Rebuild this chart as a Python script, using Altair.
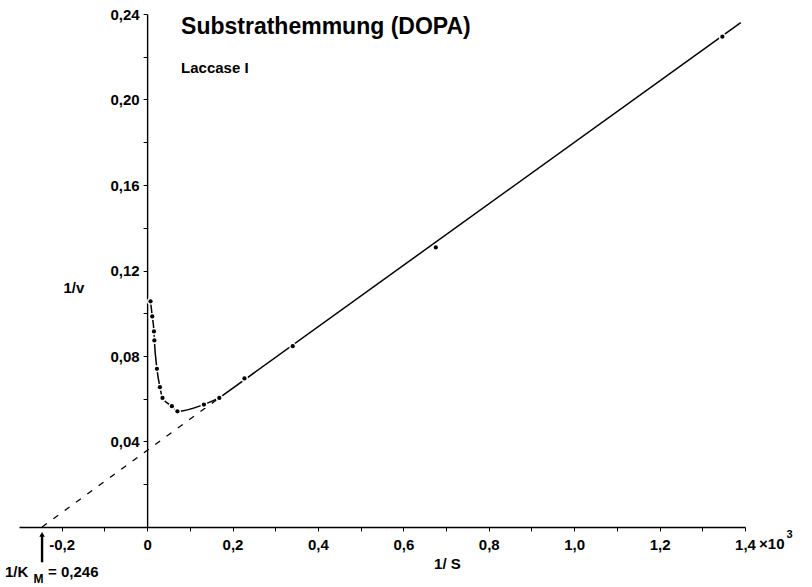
import altair as alt
import pandas as pd

FONT = "Liberation Sans"

# measured points (1/S in units of 10^3, 1/v)
pts_x = [0.008, 0.012, 0.016, 0.017, 0.023, 0.030, 0.036, 0.058, 0.071, 0.133, 0.169, 0.228, 0.341, 0.676, 1.347]
pts_y = [0.1056, 0.0985, 0.0915, 0.0873, 0.074, 0.0654, 0.0604, 0.0565, 0.0541, 0.0573, 0.0604, 0.0695, 0.0846, 0.1308, 0.2294]

# curve through the inhibition region (first 11 points)
n_curve = 11

# straight Lineweaver-Burk line (solid part) and its dashed extrapolation
fit_x = [0.169, 1.39]
fit_y = [0.0604, 0.236]
extra_x = [-0.246, 0.169]
extra_y = [0.0, 0.0604]

x_ticks = [-0.2, -0.1, 0.0, 0.1, 0.2, 0.3, 0.4, 0.5, 0.6, 0.7, 0.8, 0.9, 1.0, 1.1, 1.2, 1.3, 1.4]
y_ticks = [0.02, 0.04, 0.06, 0.08, 0.10, 0.12, 0.14, 0.16, 0.18, 0.20, 0.22, 0.24]

X_DOMAIN = [-0.3, 1.4]
Y_DOMAIN = [0.0, 0.24]
W, H = 726, 513

pts = pd.DataFrame({"x": pts_x, "y": pts_y})
curve = pts.iloc[:n_curve].copy()
fit = pd.DataFrame({"x": fit_x, "y": fit_y})
extra = pd.DataFrame({"x": extra_x, "y": extra_y})

xs = alt.Scale(domain=X_DOMAIN, nice=False, zero=False)
ys = alt.Scale(domain=Y_DOMAIN, nice=False, zero=False)

x_label_expr = ("datum.value == 0 ? '0' : (abs(round(datum.value*10)) % 2 == 0 ? "
                "replace(replace(format(datum.value, '.1f'), '.', ','), '\u2212', '-') : '')")
y_label_expr = ("round(datum.value*100) % 4 == 0 ? replace(format(datum.value, '.2f'), '.', ',') : ''")

x_axis = alt.Axis(values=x_ticks, labelExpr=x_label_expr, grid=False, title=None,
                  domainColor="black", domainWidth=1.4, tickColor="black", tickSize=4,
                  labelFont=FONT, labelFontWeight="bold", labelFontSize=15, labelColor="black",
                  labelPadding=6, labelFlush=False, labelOverlap=False)
y_offset = -W * (0 - X_DOMAIN[0]) / (X_DOMAIN[1] - X_DOMAIN[0])
y_axis = alt.Axis(values=y_ticks, labelExpr=y_label_expr, grid=False, title=None,
                  domainColor="black", domainWidth=1.4, tickColor="black", tickSize=4,
                  labelFont=FONT, labelFontWeight="bold", labelFontSize=15, labelColor="black",
                  labelPadding=4, offset=y_offset, labelFlush=False, labelOverlap=False)

extra_layer = alt.Chart(extra).mark_line(color="black", strokeWidth=1.3, strokeDash=[6, 8]).encode(
    x=alt.X("x:Q", scale=xs, axis=x_axis), y=alt.Y("y:Q", scale=ys, axis=y_axis))
fit_layer = alt.Chart(fit).mark_line(color="black", strokeWidth=1.5).encode(
    x=alt.X("x:Q", scale=xs), y=alt.Y("y:Q", scale=ys))
curve_layer = alt.Chart(curve).mark_line(color="black", strokeWidth=1.5, interpolate="monotone").encode(
    x=alt.X("x:Q", scale=xs), y=alt.Y("y:Q", scale=ys))
gap_layer = alt.Chart(pts).mark_point(filled=True, color="white", size=50, opacity=1).encode(
    x=alt.X("x:Q", scale=xs), y=alt.Y("y:Q", scale=ys))
dot_layer = alt.Chart(pts).mark_point(filled=True, color="black", size=18, opacity=1).encode(
    x=alt.X("x:Q", scale=xs), y=alt.Y("y:Q", scale=ys))

# annotations
ann_big = pd.DataFrame({"x": [0.0795], "y": [0.2305], "t": ["Substrathemmung (DOPA)"]})
ann_mid = pd.DataFrame({
    "x": [0.0795, -0.196, 0.672, 1.433, -0.333, -0.232],
    "y": [0.2122, 0.1095, -0.0195, -0.0105, -0.0232, -0.0232],
    "t": ["Laccase  I", "1/v", "1/ S", "\u00d710", "1/K", "= 0,246"],
})
ann_sup = pd.DataFrame({"x": [1.497], "y": [-0.0052], "t": ["3"]})
ann_sub = pd.DataFrame({"x": [-0.266], "y": [-0.0262], "t": ["M"]})

def text_layer(df, size):
    return alt.Chart(df).mark_text(font=FONT, fontWeight="bold", fontSize=size, color="black",
                                   align="left", baseline="alphabetic").encode(
        x=alt.X("x:Q", scale=xs), y=alt.Y("y:Q", scale=ys), text="t:N")

arrow = pd.DataFrame({"x": [-0.246], "y": [-0.0035], "y2": [-0.0165]})
arrow_rule = alt.Chart(arrow).mark_rule(color="black", strokeWidth=2.4).encode(
    x=alt.X("x:Q", scale=xs), y=alt.Y("y:Q", scale=ys), y2="y2:Q")
arrow_head = alt.Chart(arrow).mark_point(shape="triangle-up", filled=True, color="black", size=30, opacity=1).encode(
    x=alt.X("x:Q", scale=xs), y=alt.Y("y:Q", scale=ys))

chart = alt.layer(
    extra_layer, fit_layer, curve_layer, gap_layer, dot_layer,
    text_layer(ann_big, 23), text_layer(ann_mid, 15), text_layer(ann_sup, 11), text_layer(ann_sub, 12),
    arrow_rule, arrow_head,
).properties(
    width=W, height=H,
    padding={"left": 19, "top": 14, "right": 67, "bottom": 60},
    autosize="none", background="white",
).configure_view(stroke=None)

chart.save("out.html", embed_options={"renderer": "svg", "actions": False})
